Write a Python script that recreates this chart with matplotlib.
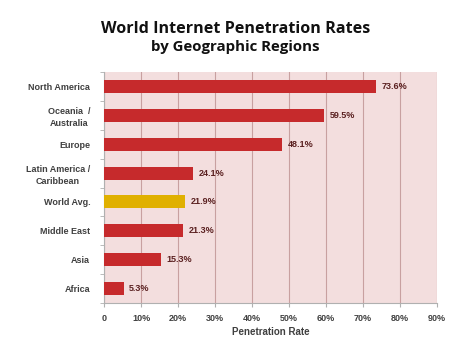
import matplotlib
matplotlib.use("Agg")
import matplotlib.pyplot as plt

regions = ["North America", "Oceania  /\nAustralia", "Europe", "Latin America /\nCaribbean",
           "World Avg.", "Middle East", "Asia", "Africa"]
rates = [73.6, 59.5, 48.1, 24.1, 21.9, 21.3, 15.3, 5.3]
xticks = [0, 10, 20, 30, 40, 50, 60, 70, 80, 90]
xtick_labels = ["0"] + ["%d%%" % t for t in xticks[1:]]

fig = plt.figure(figsize=(4.71, 3.4), dpi=100)
ax = fig.add_axes([0.221, 0.109, 0.707, 0.679])
ax.set_facecolor("#f3dede")

colors = ["#e0b000" if r == "World Avg." else "#c62a2c" for r in regions]
ypos = list(range(len(regions)))[::-1]
ax.barh(ypos, rates, height=0.45, color=colors, edgecolor="none", zorder=3)

for y, v in zip(ypos, rates):
    ax.text(v + 1.5, y, "%.1f%%" % v, va="center", ha="left", fontsize=6.5,
            fontweight="bold", color="#5a2020", family="Liberation Sans")

ax.set_xlim(0, 90)
ax.set_ylim(-0.5, len(regions) - 0.5)
ax.set_xticks(xticks)
ax.set_xticklabels(xtick_labels)
ax.set_yticks(ypos)
ax.set_yticklabels(regions)
ax.set_yticks([y + 0.5 for y in range(-1, len(regions))], minor=True)
for lab in ax.get_xticklabels() + ax.get_yticklabels():
    lab.set_fontsize(6.5)
    lab.set_fontweight("bold")
    lab.set_family("Liberation Sans")
    lab.set_color("#404040")
for lab in ax.get_yticklabels():
    lab.set_horizontalalignment("right")
    lab.set_multialignment("center")
    lab.set_linespacing(1.35)

ax.grid(axis="x", color="#c8a0a0", linewidth=0.8, zorder=1)
ax.tick_params(axis="y", which="major", length=0, pad=10)
ax.tick_params(axis="y", which="minor", length=3, color="#b0b0b0")
ax.tick_params(axis="x", length=3, color="#b0b0b0", pad=5)
for s in ["top", "right"]:
    ax.spines[s].set_visible(False)
ax.spines["left"].set_color("#b0b0b0")
ax.spines["bottom"].set_color("#b0b0b0")

ax.set_xlabel("Penetration Rate", fontsize=7, fontweight="bold", color="#404040",
              family="Liberation Sans", labelpad=3)

fig.text(0.5, 0.915, "World Internet Penetration Rates", ha="center", va="center",
         fontsize=11.6, fontweight="bold", family="Open Sans", color="#111111")
fig.text(0.5, 0.862, "by Geographic Regions", ha="center", va="center",
         fontsize=10.8, fontweight="bold", family="Open Sans", color="#111111")

fig.savefig("out.png", dpi=100)
